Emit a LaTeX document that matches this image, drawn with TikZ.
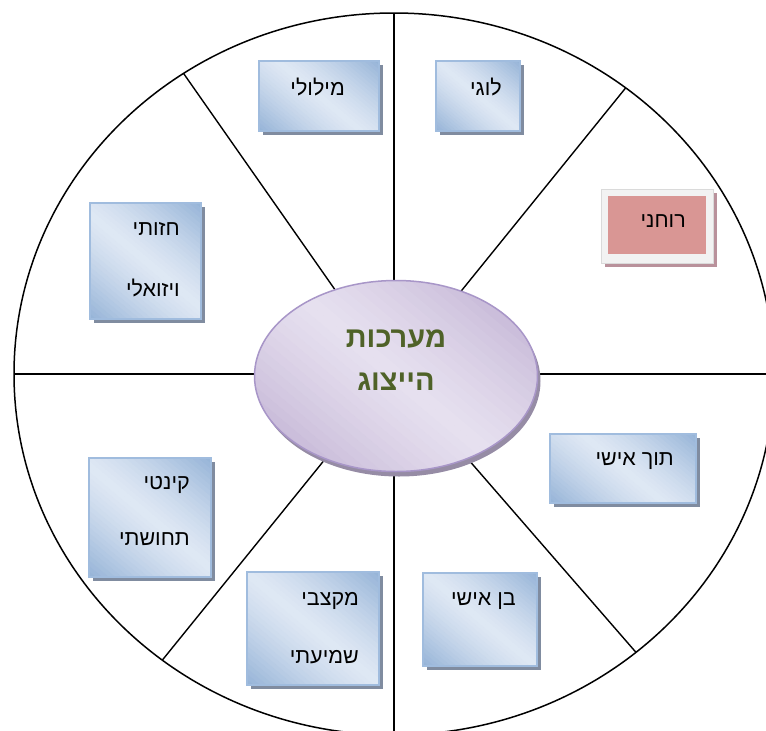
\documentclass[tikz,border=0pt]{standalone}
\usepackage{fontspec}
\TeXXeTstate=1
\newfontfamily\hebfont[Script=Hebrew]{Liberation Sans}
\usetikzlibrary{shapes.geometric}
\definecolor{boxblue}{RGB}{149,179,215}
\definecolor{boxlight}{RGB}{223,232,244}
\definecolor{boxedge}{RGB}{160,188,222}
\definecolor{boxshadow}{RGB}{128,140,160}
\definecolor{hubdark}{RGB}{186,168,206}
\definecolor{hublight}{RGB}{230,224,239}
\definecolor{hubedge}{RGB}{168,150,200}
\definecolor{hubshadow}{RGB}{150,140,165}
\definecolor{hubtext}{RGB}{79,98,40}
\definecolor{pinkfill}{RGB}{217,150,148}
\definecolor{pinkframe}{RGB}{242,242,242}
\definecolor{pinkshadow}{RGB}{185,145,155}
\tikzset{
  boxnode/.style={rectangle, inner sep=0pt, outer sep=0pt},
  boxshade/.style={rectangle, inner sep=0pt, outer sep=0pt, fill=boxshadow},
  lbl/.style={anchor=east, inner sep=0pt, font=\hebfont\fontsize{21.5}{24}\selectfont, text=black},
  hubtxt/.style={inner sep=0pt, font=\hebfont\bfseries\fontsize{29}{32}\selectfont, text=hubtext},
  spoke/.style={line width=1.4pt, black}
}
% diagonal gradient made of strips: #1 cx, #2 cy, #3 w, #4 h, #5 end colour, #6 middle colour, #7 angle
\newcommand\gradfill[7]{%
  \pgfmathsetmacro\gE{(#3/2)*abs(sin(#7))+(#4/2)*abs(cos(#7))}%
  \pgfmathsetmacro\gL{10*sqrt((#3/20)^2+(#4/20)^2)+2}%
  \pgfmathsetmacro\gS{2*\gE/40}%
  \begin{scope}[shift={(#1,#2)}, rotate=#7]
    \foreach \gi in {0,...,39}{%
      \pgfmathsetmacro\gp{100*pow(abs(2*(\gi+0.5)/40-1),1.3)}%
      \fill[#5!\gp!#6] (-\gL,-\gE+\gi*\gS) rectangle (\gL,-\gE+\gi*\gS+\gS+0.6);
    }
  \end{scope}}
% blue box: #1 name, #2 cx, #3 cy, #4 w, #5 h
\newcommand\mkbox[5]{%
  \node[boxshade, minimum width=#4pt, minimum height=#5pt] (#1S) at (#2+4,#3+4) {};
  \node[boxnode, minimum width=#4pt, minimum height=#5pt] (#1) at (#2,#3) {};
  \begin{scope}
    \clip (#1.south west) rectangle (#1.north east);
    \gradfill{#2}{#3}{#4}{#5}{boxblue}{boxlight}{-40}
  \end{scope}
  \draw[boxedge, line width=1.2pt] (#1.south west) rectangle (#1.north east);}
\begin{document}
\begin{tikzpicture}[x=1pt,y=-1pt]
\useasboundingbox (0,0) rectangle (766,731);
\clip (0,0) rectangle (766,731);
\fill[white] (0,0) rectangle (766,731);
% outer wheel
\node[ellipse, draw, line width=1.5pt, inner sep=0pt, outer sep=0pt,
      minimum width=760pt, minimum height=722pt] (big) at (394,374) {};
\draw[spoke] (big.center) -- (big.north);
\draw[spoke] (big.center) -- (big.south);
\draw[spoke] (big.center) -- (big.west);
\draw[spoke] (big.center) -- (big.east);
\draw[spoke] (big.center) -- (big.51);
\draw[spoke] (big.center) -- (big.125.6);
\draw[spoke] (big.center) -- (big.-49.6);
\draw[spoke] (big.center) -- (big.-129.3);
% hub
\node[ellipse, inner sep=0pt, minimum width=283pt, minimum height=191pt, fill=hubshadow] (hubS) at (399,381) {};
\node[ellipse, inner sep=0pt, outer sep=0pt, minimum width=283pt, minimum height=191pt] (hub) at (396,376) {};
\begin{scope}
  \clip (hub.center) ellipse [x radius=141.5, y radius=95.5];
  \gradfill{396}{376}{283}{191}{hubdark}{hublight}{-40}
\end{scope}
\draw[hubedge, line width=1.5pt] (hub.center) ellipse [x radius=141.5, y radius=95.5];
\node[hubtxt] (hubA) at (396,339) {\beginR מערכות\endR};
\node[hubtxt] (hubB) at (396,382) {\beginR הייצוג\endR};
% boxes
\mkbox{logi}{478}{96}{84}{70}
\node[lbl] (logiT) at (502,87) {\beginR לוגי\endR};
\mkbox{milu}{319}{96}{120}{70}
\node[lbl] (miluT) at (345,87) {\beginR מילולי\endR};
\node[rectangle, inner sep=0pt, minimum width=112pt, minimum height=74pt, fill=pinkshadow] (ruchS) at (661,230) {};
\node[rectangle, inner sep=0pt, minimum width=112pt, minimum height=74pt, fill=pinkframe, draw=pinkframe!90!black,
      line width=0.6pt] (ruchF) at (657,226) {};
\node[rectangle, inner sep=0pt, minimum width=98pt, minimum height=58pt, fill=pinkfill] (ruch) at (657,225) {};
\node[lbl] (ruchT) at (686,221) {\beginR רוחני\endR};
\mkbox{chaz}{145.5}{261}{111}{116}
\node[lbl] (chazT1) at (180,229) {\beginR חזותי\endR};
\node[lbl] (chazT2) at (180,288) {\beginR ויזואלי\endR};
\mkbox{toch}{623}{468.5}{146}{69}
\node[lbl] (tochT) at (674,461) {\beginR תוך אישי\endR};
\mkbox{kin}{150}{517.5}{122}{119}
\node[lbl] (kinT1) at (190,485) {\beginR קינטי\endR};
\node[lbl] (kinT2) at (190,539) {\beginR תחושתי\endR};
\mkbox{mik}{313}{628.5}{132}{113}
\node[lbl] (mikT1) at (359,601) {\beginR מקצבי\endR};
\node[lbl] (mikT2) at (359,657) {\beginR שמיעתי\endR};
\mkbox{ben}{480}{619.5}{114}{93}
\node[lbl] (benT) at (516,601) {\beginR בן אישי\endR};
\end{tikzpicture}
\end{document}
